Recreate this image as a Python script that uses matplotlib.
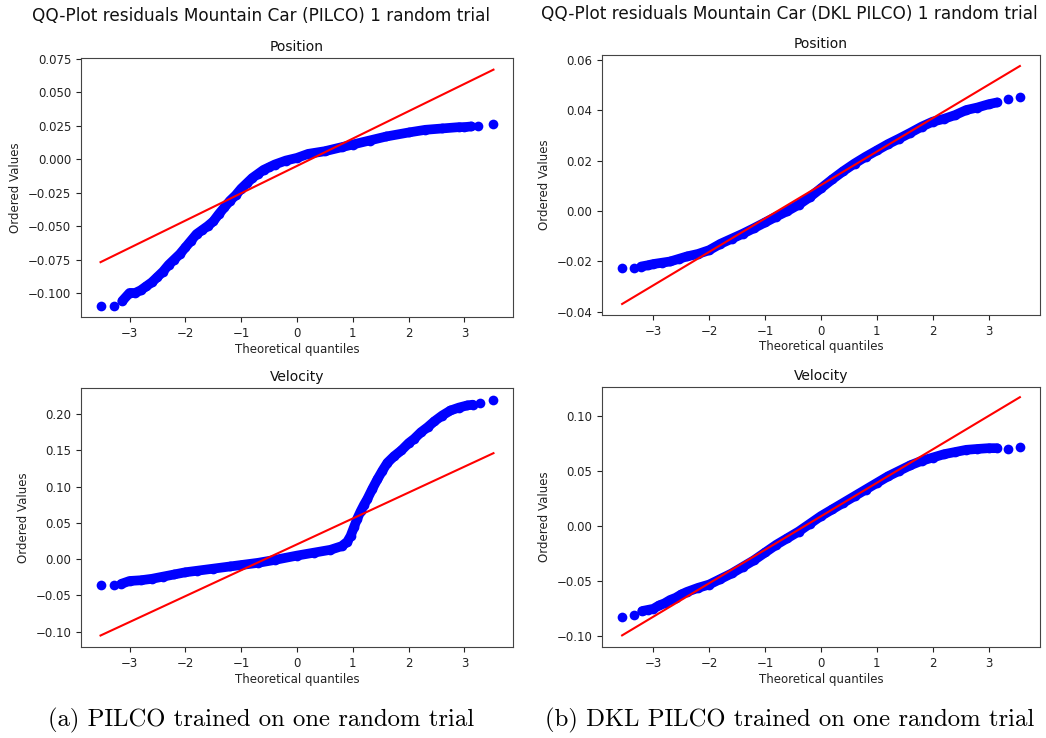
import numpy as np
import matplotlib
matplotlib.use("Agg")
import matplotlib.pyplot as plt

# Theoretical quantiles / ordered residuals
pos_pilco_q = [-3.52, -3.28, -3.13, -3.0, -2.9, -2.8, -2.7, -2.6, -2.5, -2.4, -2.3, -2.2,
               -2.1, -2.0, -1.9, -1.8, -1.7, -1.6, -1.5, -1.4, -1.3, -1.2, -1.1, -1.0,
               -0.9, -0.8, -0.7, -0.6, -0.5, -0.4, -0.2, 0.0, 0.2, 0.5, 0.8, 1.0, 1.3,
               1.6, 2.0, 2.3, 2.6, 2.9, 3.0, 3.12, 3.25, 3.52]
pos_pilco_v = [-0.110, -0.110, -0.106, -0.100, -0.100, -0.098, -0.095, -0.092, -0.088,
               -0.084, -0.079, -0.075, -0.071, -0.066, -0.061, -0.056, -0.053, -0.050,
               -0.0465, -0.041, -0.036, -0.031, -0.027, -0.022, -0.018, -0.014, -0.011,
               -0.008, -0.006, -0.004, -0.001, 0.001, 0.004, 0.006, 0.009, 0.011, 0.014,
               0.017, 0.020, 0.022, 0.023, 0.024, 0.024, 0.0245, 0.025, 0.0265]

vel_pilco_q = [-3.52, -3.28, -3.15, -3.0, -2.8, -2.6, -2.4, -2.2, -2.0, -1.8, -1.5, -1.2,
               -1.0, -0.7, -0.4, 0.0, 0.3, 0.6, 0.8, 0.9, 0.96, 1.02, 1.08, 1.14, 1.2,
               1.26, 1.35, 1.44, 1.53, 1.62, 1.74, 1.87, 2.0, 2.1, 2.22, 2.34, 2.46, 2.6,
               2.75, 2.9, 3.05, 3.15, 3.28, 3.52]
vel_pilco_v = [-0.036, -0.036, -0.034, -0.030, -0.029, -0.027, -0.024, -0.021, -0.018,
               -0.016, -0.013, -0.010, -0.008, -0.005, -0.001, 0.005, 0.009, 0.013, 0.018,
               0.024, 0.032, 0.044, 0.056, 0.066, 0.075, 0.083, 0.097, 0.110, 0.122, 0.133,
               0.142, 0.150, 0.160, 0.166, 0.175, 0.182, 0.190, 0.198, 0.205, 0.209,
               0.212, 0.213, 0.215, 0.220]

pos_dkl_q = [-3.56, -3.35, -3.22, -3.1, -3.0, -2.85, -2.7, -2.55, -2.4, -2.2, -2.0, -1.8,
             -1.6, -1.4, -1.2, -1.0, -0.8, -0.6, -0.4, -0.2, 0.0, 0.2, 0.4, 0.6, 0.8,
             1.0, 1.2, 1.4, 1.6, 1.8, 2.0, 2.2, 2.4, 2.6, 2.8, 3.0, 3.15, 3.35, 3.56]
pos_dkl_v = [-0.0225, -0.0225, -0.022, -0.0215, -0.021, -0.0205, -0.020, -0.019, -0.018,
             -0.017, -0.0155, -0.013, -0.011, -0.009, -0.0068, -0.0045, -0.0022, 0.000,
             0.0025, 0.0055, 0.009, 0.0125, 0.0158, 0.0188, 0.0215, 0.024, 0.0265,
             0.0287, 0.031, 0.0334, 0.0354, 0.0365, 0.038, 0.040, 0.041, 0.0423, 0.043,
             0.0442, 0.0453]

vel_dkl_q = [-3.56, -3.35, -3.2, -3.1, -3.0, -2.9, -2.8, -2.7, -2.6, -2.5, -2.4, -2.2,
             -2.0, -1.8, -1.6, -1.4, -1.2, -1.0, -0.8, -0.6, -0.4, -0.2, 0.0, 0.2, 0.4,
             0.6, 0.8, 1.0, 1.2, 1.4, 1.6, 1.8, 2.0, 2.2, 2.4, 2.6, 2.8, 3.0, 3.15, 3.35,
             3.56]
vel_dkl_v = [-0.0824, -0.081, -0.077, -0.076, -0.075, -0.072, -0.070, -0.067, -0.065,
             -0.062, -0.0597, -0.056, -0.053, -0.048, -0.043, -0.037, -0.031, -0.024,
             -0.017, -0.011, -0.005, 0.002, 0.009, 0.015, 0.021, 0.027, 0.033, 0.039,
             0.045, 0.050, 0.055, 0.059, 0.062, 0.065, 0.067, 0.069, 0.0698, 0.0705,
             0.0705, 0.070, 0.0712]

# least-squares fit lines (slope, intercept) as drawn by probplot
fit_pos_pilco = (0.02045, -0.005)
fit_vel_pilco = (0.0357, 0.0205)
fit_pos_dkl = (0.01324, 0.0103)
fit_vel_dkl = (0.0303, 0.0088)

suptitles = ["QQ-Plot residuals Mountain Car (PILCO) 1 random trial",
             "QQ-Plot residuals Mountain Car (DKL PILCO) 1 random trial"]
captions = ["(a) PILCO trained on one random trial",
            "(b) DKL PILCO trained on one random trial"]

W, H = 1046, 738
fig = plt.figure(figsize=(W / 100, H / 100), dpi=100)


def rect(l, t, r, b):
    return [l / W, 1 - b / H, (r - l) / W, (b - t) / H]


def qq_panel(box, q, v, fit, title, xlim, ylim, yticks, fmt):
    ax = fig.add_axes(rect(*box))
    q = np.asarray(q)
    v = np.asarray(v)
    # dense band of ordered values, with the separate tail dots
    ax.plot(q[2:-2], v[2:-2], color='blue', lw=7, solid_capstyle='round',
            solid_joinstyle='round')
    ax.plot(q, v, 'o', color='blue', ms=7, mec='none')
    xs = np.array([q.min(), q.max()])
    ax.plot(xs, fit[0] * xs + fit[1], 'r-', lw=1.5)
    ax.set_xlim(*xlim)
    ax.set_ylim(*ylim)
    ax.set_xticks([-3, -2, -1, 0, 1, 2, 3])
    ax.set_yticks(yticks)
    ax.set_yticklabels([fmt.format(t).replace('-', '\u2212') for t in yticks])
    ax.set_xticklabels([str(t).replace('-', '\u2212') for t in [-3, -2, -1, 0, 1, 2, 3]])
    ax.tick_params(labelsize=8.5, colors='#222222', length=3.5, width=0.8)
    for s in ax.spines.values():
        s.set_color('#444444')
        s.set_linewidth(0.8)
    ax.set_title(title, fontsize=10, color='#111111', pad=5)
    ax.set_xlabel("Theoretical quantiles", fontsize=8.5, color='#222222', labelpad=2)
    ax.set_ylabel("Ordered Values", fontsize=8.5, color='#222222', labelpad=4)
    return ax


qq_panel((81, 58, 513, 317), pos_pilco_q, pos_pilco_v, fit_pos_pilco, "Position",
         (-3.87, 3.87), (-0.118, 0.0757),
         [-0.100, -0.075, -0.050, -0.025, 0.0, 0.025, 0.050, 0.075], "{:.3f}")
qq_panel((81, 388, 513, 647), vel_pilco_q, vel_pilco_v, fit_vel_pilco, "Velocity",
         (-3.87, 3.87), (-0.121, 0.236),
         [-0.10, -0.05, 0.0, 0.05, 0.10, 0.15, 0.20], "{:.2f}")
qq_panel((602, 55, 1040, 315), pos_dkl_q, pos_dkl_v, fit_pos_dkl, "Position",
         (-3.92, 3.92), (-0.0412, 0.0618),
         [-0.04, -0.02, 0.0, 0.02, 0.04, 0.06], "{:.2f}")
qq_panel((602, 387, 1040, 647), vel_dkl_q, vel_dkl_v, fit_vel_dkl, "Velocity",
         (-3.92, 3.92), (-0.1096, 0.1259),
         [-0.10, -0.05, 0.0, 0.05, 0.10], "{:.2f}")

fig.text(261 / W, 1 - 16 / H, suptitles[0], ha='center', va='center',
         fontsize=12.2, color='#111111')
fig.text(789 / W, 1 - 14 / H, suptitles[1], ha='center', va='center',
         fontsize=12.2, color='#111111')

fig.text(261 / W, 1 - 720 / H, captions[0], ha='center', va='center',
         fontsize=17.8, family='cmr10')
fig.text(790 / W, 1 - 720 / H, captions[1], ha='center', va='center',
         fontsize=17.8, family='cmr10')

fig.savefig("out.png", dpi=100, facecolor='white')
